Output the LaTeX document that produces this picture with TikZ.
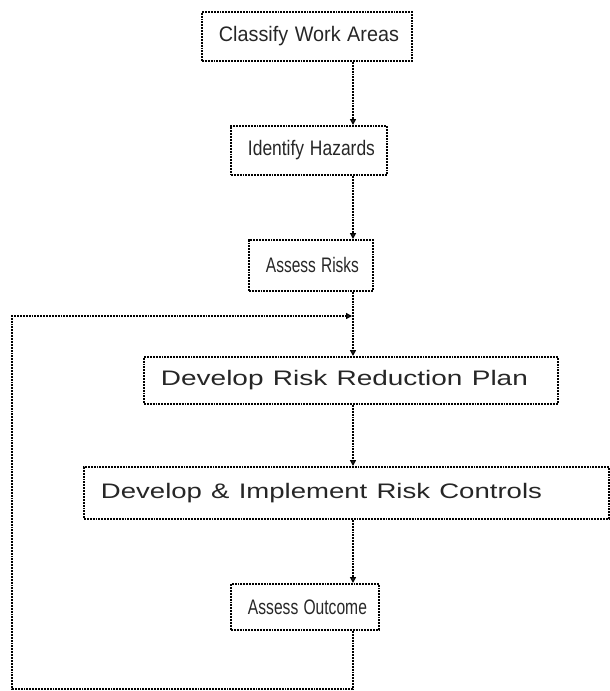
\documentclass[tikz,border=0pt]{standalone}
\usepackage{fontspec}
\setmainfont{Liberation Sans}
\usepackage{graphicx}
\usetikzlibrary{positioning, calc}
\usetikzlibrary{arrows.meta}

\newcommand{\fitx}[2]{\resizebox{#1}{\height}{#2}}

\tikzset{
    procbox/.style={draw, densely dotted, line width=1.9pt, anchor=north west,
        inner xsep=17pt, inner ysep=0pt, align=left, text=black!85,
        font=\fontsize{21}{25}\selectfont},
    flow/.style={densely dotted, line width=1.9pt,
        -{Triangle[open,length=6pt,width=6pt]}}
}

\begin{document}
\begin{tikzpicture}[x=1pt, y=-1pt]
                \useasboundingbox (0,0) rectangle (610,691);
                % boxes
                \node[procbox, minimum width=210pt, minimum height=49pt, text width=176pt] (classify) at (201,11) {\fitx{180pt}{Classify Work Areas}};
                \node[procbox, minimum width=156pt, minimum height=49pt, text width=122pt] (identify) at (230,125) {\fitx{127pt}{Identify Hazards}};
                \node[procbox, minimum width=124pt, minimum height=51pt, text width=90pt] (assess) at (248,239) {\fitx{93pt}{Assess Risks}};
                \node[procbox, minimum width=414pt, minimum height=47pt, text width=380pt] (plan) at (143,356) {\fitx{367pt}{Develop Risk Reduction Plan}};
                \node[procbox, minimum width=525pt, minimum height=52pt, text width=491pt] (controls) at (83,466) {\fitx{441pt}{Develop \& Implement Risk Controls}};
                \node[procbox, minimum width=148pt, minimum height=46pt, text width=114pt] (outcome) at (230,583) {\fitx{119pt}{Assess Outcome}};
                % connector column and loop corners
                \coordinate (col) at (353,0);
                \coordinate (lowR) at (353,689);
                \coordinate (lowL) at (12,689);
                \coordinate (upL) at (12,316);
                \coordinate (upR) at (352,316);
                \draw[flow] (classify.south -| col) -- (identify.north -| col);
                \draw[flow] (identify.south -| col) -- (assess.north -| col);
                \draw[flow] (assess.south -| col) -- (plan.north -| col);
                \draw[flow] (plan.south -| col) -- (controls.north -| col);
                \draw[flow] (controls.south -| col) -- (outcome.north -| col);
                % feedback loop
                \draw[flow] (outcome.south -| col) -- (lowR) -- (lowL) -- (upL) -- (upR);
\end{tikzpicture}
\end{document}
